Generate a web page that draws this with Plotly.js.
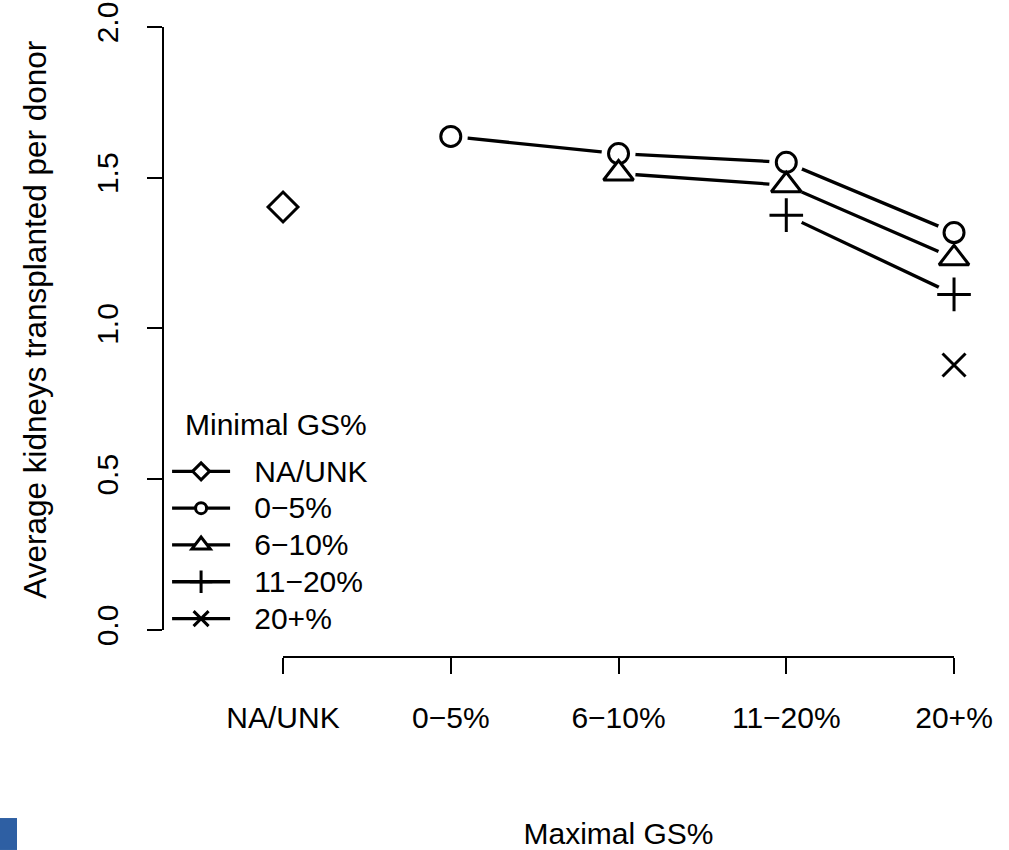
<!DOCTYPE html>
<html>
<head>
<meta charset="utf-8">
<script src="https://cdn.plot.ly/plotly-3.0.1.min.js"></script>
<style>html,body{margin:0;padding:0;background:#fff;}#chart{width:1009px;height:850px;}</style>
</head>
<body>
<div id="chart"></div>
<script>
// ---- data ----
var categories = ['NA/UNK', '0\u22125%', '6\u221210%', '11\u221220%', '20+%'];
var seriesNames = ['NA/UNK', '0\u22125%', '6\u221210%', '11\u221220%', '20+%'];
var valsNA   = [1.403, null, null, null, null];
var vals0_5  = [null, 1.637, 1.580, 1.551, 1.318];
var vals6_10 = [null, null, 1.514, 1.475, 1.233];
var vals11_20 = [null, null, null, 1.376, 1.113];
var vals20p  = [null, null, null, null, 0.879];
var yTicks = [0, 0.5, 1.0, 1.5, 2.0];
var legendTitle = 'Minimal GS%';
var xTitle = 'Maximal GS%';
var yTitle = 'Average kidneys transplanted per donor';

var seriesVals = [valsNA, vals0_5, vals6_10, vals11_20, vals20p];
var symbols = ['diamond', 'circle', 'triangle-up', 'cross-thin', 'x-thin'];
var sizes = [23, 20, 26, 24, 23];        // plot marker sizes
var legendSizes = [13, 11, 16, 16, 15];  // legend marker sizes
var fills = ['white', 'white', 'white', 'black', 'black'];

var FONT = 'Liberation Sans, Arial, sans-serif';
var NB = '\u00a0';
function legendName(s) { return '<span style="font-size:30px">' + NB + NB + '\u200a' + s + '</span>'; }

var traces = [];
// layer 1: lines (+ legend entry; its markers end up hidden under the masks)
seriesVals.forEach(function (v, i) {
  traces.push({
    x: categories, y: v, type: 'scatter', mode: 'lines+markers', name: legendName(seriesNames[i]),
    line: {color: 'black', width: 3.3}, cliponaxis: false, hoverinfo: 'skip',
    marker: {symbol: symbols[i], size: legendSizes[i], color: fills[i], line: {color: 'black', width: 3}}
  });
});
// layer 2: white masks to create R type="b" gaps around points
seriesVals.forEach(function (v, i) {
  traces.push({
    x: categories, y: v, type: 'scatter', mode: 'markers', showlegend: false, cliponaxis: false,
    hoverinfo: 'skip', marker: {symbol: 'circle', size: 34, color: 'white', line: {width: 0}}
  });
});
// layer 3: markers on top
seriesVals.forEach(function (v, i) {
  traces.push({
    x: categories, y: v, type: 'scatter', mode: 'markers', showlegend: false, cliponaxis: false,
    hoverinfo: 'skip',
    marker: {symbol: symbols[i], size: sizes[i], color: fills[i], line: {color: 'black', width: 3}}
  });
});

var layout = {
  width: 1009, height: 850,
  margin: {l: 163, r: 30, t: 27, b: 193},
  paper_bgcolor: 'white', plot_bgcolor: 'white',
  font: {family: FONT, size: 30, color: 'black'},
  showlegend: true,
  xaxis: {
    type: 'category', categoryorder: 'array', categoryarray: categories,
    range: [0, 4], domain: [0.1471, 0.9694], anchor: 'free', position: 0,
    showline: true, linecolor: 'black', linewidth: 2,
    ticks: 'outside', ticklen: 16, tickwidth: 2, tickcolor: 'black',
    showgrid: false, zeroline: false, automargin: false,
    tickfont: {family: FONT, size: 30, color: 'black'}, ticklabelstandoff: 18,
    title: {text: xTitle, font: {family: FONT, size: 30, color: 'black'}, standoff: 95}
  },
  yaxis: {
    range: [0, 2], domain: [0.0429, 1], anchor: 'free', position: 0,
    tickvals: yTicks, tickformat: '.1f', tickangle: -90,
    showline: true, linecolor: 'black', linewidth: 2,
    ticks: 'outside', ticklen: 15, tickwidth: 2, tickcolor: 'black',
    showgrid: false, zeroline: false, automargin: false,
    tickfont: {family: FONT, size: 30, color: 'black'}, ticklabelstandoff: 17,
    title: {text: '<span>' + NB + NB + '</span>' + yTitle,
            font: {family: FONT, size: 31.5, color: 'black'}, standoff: 34}
  },
  legend: {
    x: 0.005, y: 0.3318, xanchor: 'left', yanchor: 'top',
    bgcolor: 'rgba(0,0,0,0)', borderwidth: 0,
    font: {family: FONT, size: 26, color: 'black'},
    itemsizing: 'trace', itemwidth: 58, tracegroupgap: 0
  },
  annotations: [{
    text: legendTitle, xref: 'paper', yref: 'paper',
    x: 0.0245, y: 0.3683, xanchor: 'left', yanchor: 'middle', showarrow: false,
    font: {family: FONT, size: 30, color: 'black'}
  }],
  shapes: [{
    type: 'rect', xref: 'paper', yref: 'paper',
    x0: -0.1998, x1: -0.1789, y0: -0.3063, y1: -0.2556,
    fillcolor: '#2e5fa3', line: {width: 0}
  }]
};

Plotly.newPlot('chart', traces, layout, {displayModeBar: false, staticPlot: true});
</script>
</body>
</html>
